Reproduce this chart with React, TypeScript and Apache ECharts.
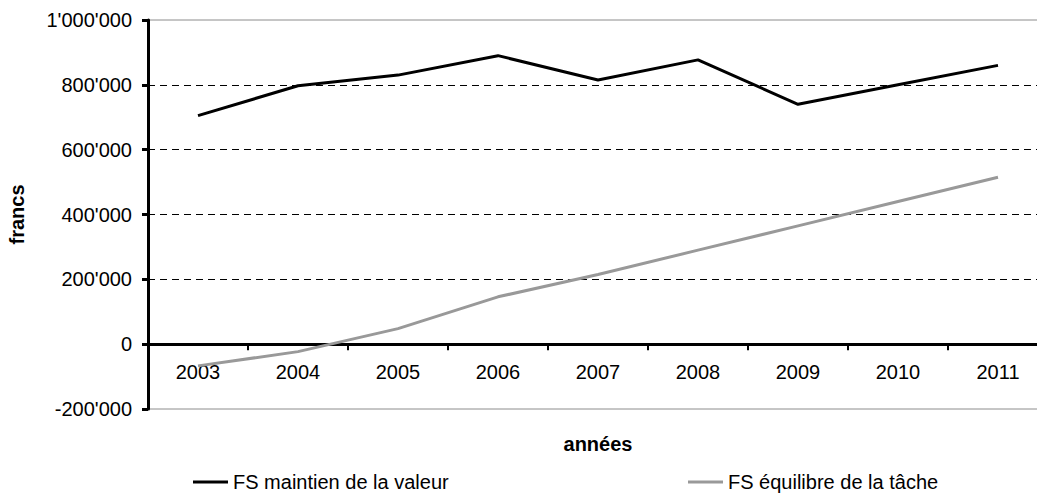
import React, { useEffect, useRef } from "react";
import * as echarts from "echarts";

// Années et montants (francs) des deux fonds
const years = ["2003", "2004", "2005", "2006", "2007", "2008", "2009", "2010", "2011"];
const maintienValeur = [705000, 797000, 830000, 890000, 815000, 877000, 740000, 800000, 860000];
const equilibreTache = [-67000, -23000, 48000, 146000, 215000, 290000, 365000, 440000, 515000];

const nameMaintien = "FS maintien de la valeur";
const nameEquilibre = "FS équilibre de la tâche";

const FONT = "'Liberation Sans', Arial, Helvetica, sans-serif";

// 1000000 -> 1'000'000
const fmt = (v: number) => {
  const s = Math.abs(v).toString().replace(/\B(?=(\d{3})+(?!\d))/g, "'");
  return v < 0 ? "-" + s : s;
};

const legendText = { fontFamily: FONT, fontSize: 20, color: "#000" };

export default function App() {
  const ref = useRef<HTMLDivElement>(null);

  useEffect(() => {
    if (!ref.current) return;
    const chart = echarts.init(ref.current, undefined, { renderer: "svg" });
    chart.setOption({
      animation: false,
      backgroundColor: "#ffffff",
      textStyle: { fontFamily: FONT },
      grid: {
        left: 148,
        right: -11,
        top: 20,
        bottom: 85,
        outerBoundsMode: "none",
        containLabel: false,
        show: true,
        borderColor: "#8c8c8c",
        borderWidth: 1,
        backgroundColor: "transparent",
      },
      legend: [
        {
          data: [nameMaintien],
          left: 188,
          top: 467,
          icon: "rect",
          itemWidth: 35,
          itemHeight: 3,
          textStyle: legendText,
          selectedMode: false,
        },
        {
          data: [nameEquilibre],
          left: 683,
          top: 467,
          icon: "rect",
          itemWidth: 35,
          itemHeight: 3,
          textStyle: legendText,
          selectedMode: false,
        },
      ],
      xAxis: {
        type: "category",
        data: years,
        boundaryGap: true,
        name: "années",
        nameLocation: "middle",
        nameGap: 25,
        nameTextStyle: { fontFamily: FONT, fontSize: 20, fontWeight: "bold", color: "#000" },
        axisLine: { onZero: true, lineStyle: { color: "#000", width: 3 } },
        axisTick: { show: true, inside: false, length: 6, lineStyle: { color: "#000", width: 2 } },
        // labels sit just under the zero line
        axisLabel: { fontFamily: FONT, fontSize: 20, color: "#000", margin: -47 },
        splitLine: { show: false },
      },
      yAxis: {
        type: "value",
        min: -200000,
        max: 1000000,
        interval: 200000,
        name: "francs",
        nameLocation: "middle",
        nameRotate: 90,
        nameGap: 121,
        nameTextStyle: { fontFamily: FONT, fontSize: 20, fontWeight: "bold", color: "#000" },
        axisLine: { show: true, lineStyle: { color: "#000", width: 3 } },
        axisTick: { show: true, inside: false, length: 6, lineStyle: { color: "#000", width: 3 } },
        axisLabel: { fontFamily: FONT, fontSize: 20, color: "#000", margin: 16, formatter: fmt },
        splitLine: {
          show: true,
          showMinLine: false,
          showMaxLine: false,
          lineStyle: { color: "#000", width: 1, type: [7, 5] },
        },
      },
      series: [
        {
          name: nameMaintien,
          type: "line",
          data: maintienValeur,
          symbol: "none",
          lineStyle: { color: "#000", width: 3 },
          itemStyle: { color: "#000" },
          z: 3,
        },
        {
          name: nameEquilibre,
          type: "line",
          data: equilibreTache,
          symbol: "none",
          lineStyle: { color: "#999999", width: 3 },
          itemStyle: { color: "#999999" },
          z: 2,
        },
      ],
    });
    return () => chart.dispose();
  }, []);

  return (
    <div
      ref={ref}
      style={{ position: "absolute", left: 0, top: 0, width: 1037, height: 494 }}
    />
  );
}
